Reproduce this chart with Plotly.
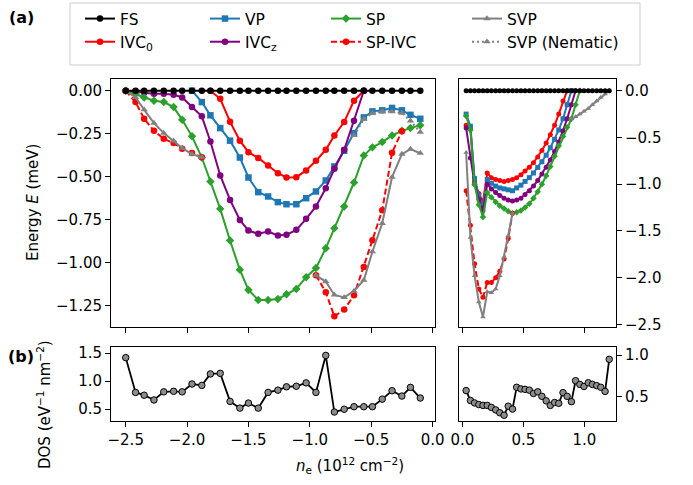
import plotly.graph_objects as go

N = None
# ---------------- data ----------------
x_left = [-2.50, -2.42, -2.35, -2.27, -2.19, -2.11, -2.04, -1.96, -1.88, -1.81, -1.73,
          -1.65, -1.57, -1.50, -1.42, -1.34, -1.26, -1.19, -1.11, -1.03, -0.95, -0.87,
          -0.80, -0.72, -0.64, -0.56, -0.49, -0.41, -0.33, -0.25, -0.18, -0.10]
x_right = [0.030, 0.065, 0.099, 0.134, 0.168, 0.203, 0.237, 0.272, 0.306, 0.341, 0.375,
           0.410, 0.444, 0.479, 0.513, 0.548, 0.582, 0.617, 0.651, 0.686, 0.720, 0.755,
           0.789, 0.824, 0.858, 0.893, 0.927, 0.962, 0.996, 1.031, 1.065, 1.100, 1.134,
           1.169, 1.203]

fs_left = [0.0] * 32
ivc0_left = [N, N, N, N, N, N, N, N, N, 0.0, -0.047, -0.18, -0.29, -0.357, -0.39, -0.434,
             -0.479, -0.504, -0.502, -0.463, -0.407, -0.343, -0.26, -0.182, -0.058, 0.0,
             N, N, N, N, N, N]
vp_left = [N, N, N, N, N, N, N, 0.0, -0.066, -0.143, -0.217, -0.29, -0.388, -0.504, -0.589,
           -0.614, -0.647, -0.659, -0.659, -0.624, -0.585, -0.521, -0.44, -0.349, -0.246,
           -0.155, -0.12, -0.114, -0.10, -0.114, -0.14, -0.163]
ivcz_left = [0.0, -0.005, -0.012, -0.017, -0.017, -0.023, -0.039, -0.095, -0.149, -0.295,
             -0.492, -0.634, -0.75, -0.812, -0.831, -0.818, -0.841, -0.837, -0.808, -0.744,
             -0.672, -0.566, -0.453, -0.343, -0.174, 0.0, N, N, N, N, N, N]
sp_left = [0.0, -0.019, -0.039, -0.058, -0.066, -0.095, -0.169, -0.265, -0.388, -0.527,
           -0.686, -0.87, -1.04, -1.157, -1.215, -1.215, -1.209, -1.182, -1.151, -1.083,
           -1.03, -0.915, -0.798, -0.672, -0.533, -0.376, -0.329, -0.298, -0.26, -0.233,
           -0.217, -0.2]
spivc_left = [0.0, -0.066, -0.163, -0.233, -0.279, -0.304, -0.337, -0.362, -0.386,
              N, N, N, N, N, N, N, N, N, N, N,
              -1.072, -1.17, -1.31, -1.271, -1.188, -1.023, -0.868, -0.694, -0.36, -0.235, N, N]
svp_left = [0.0, -0.039, -0.11, -0.188, -0.246, -0.291, -0.333, -0.368, -0.386,
            N, N, N, N, N, N, N, N, N, N, N,
            -1.072, -1.108, -1.186, -1.2, -1.163, -1.1, -0.935, -0.77, -0.502, -0.368,
            -0.339, -0.363]
nem_left = [N] * 24 + [-0.26, -0.165, -0.13, -0.12, -0.122, -0.13, -0.175, -0.24]

fs_right = [0.0] * 35
ivc0_right = [-0.37, -0.40, -0.97, -1.10, -1.19, -0.88, -0.93, -0.95, -0.96, -0.97, -0.96,
              -0.95, -0.93, -0.90, -0.86, -0.82, -0.77, -0.71, -0.64, -0.56, -0.47, -0.37,
              -0.25, -0.11, 0.0] + [N] * 10
vp_right = [-0.25, -0.38, -0.94, -1.12, -1.23, -0.95, -0.99, -1.02, -1.04, -1.05, -1.06,
            -1.07, -1.04, -1.01, -0.97, -0.93, -0.88, -0.82, -0.76, -0.69, -0.61, -0.52,
            -0.42, -0.30, -0.15, 0.0] + [N] * 9
ivcz_right = [-0.40, -0.72, -1.00, -1.16, -1.28, -1.00, -1.05, -1.09, -1.12, -1.15, -1.17,
              -1.18, -1.17, -1.15, -1.11, -1.07, -1.02, -0.96, -0.89, -0.82, -0.74, -0.65,
              -0.55, -0.43, -0.30, -0.15, 0.0] + [N] * 8
sp_right = [-0.27, -0.42, -1.00, -1.22, -1.35, -1.09, -1.14, -1.19, -1.23, -1.26, -1.29,
            -1.31, -1.30, -1.28, -1.25, -1.21, -1.15, -1.08, -1.00, -0.91, -0.81, -0.70,
            -0.59, -0.49, -0.39, -0.30, -0.15, 0.0] + [N] * 7
spivc_right = [-1.07, -1.44, -1.85, -2.12, -2.21, -2.05, -2.05, -2.00, -1.93, -1.80, -1.58,
               -1.31] + [N] * 23
svp_right = [-0.66, -1.57, -1.98, -2.26, -2.42, -2.15, -2.16, -2.12, -1.98, -1.78, -1.55,
             -1.31] + [N] * 13 + [-0.30, -0.28, -0.25, -0.22, -0.19, -0.15, -0.11, -0.07,
                                  -0.035, 0.0]
nem_right = [N] * 35

dos_left = [1.42, 0.80, 0.75, 0.665, 0.81, 0.82, 0.81, 0.95, 0.925, 1.13, 1.14, 0.64, 0.52,
            0.61, 0.52, 0.80, 0.84, 0.90, 0.91, 0.97, 0.80, 1.46, 0.45, 0.50, 0.545, 0.545,
            0.545, 0.68, 0.83, 0.735, 0.89, 0.70]
dos_right = [0.57, 0.45, 0.42, 0.40, 0.39, 0.39, 0.365, 0.335, 0.30, 0.27, 0.38, 0.345,
             0.61, 0.59, 0.585, 0.575, 0.535, 0.555, 0.50, 0.445, 0.39, 0.425, 0.415, 0.545,
             0.50, 0.435, 0.69, 0.645, 0.62, 0.665, 0.645, 0.63, 0.61, 0.56, 0.95]

series_names = ["IVC<sub>0</sub>", "VP", "IVC<sub>z</sub>", "SP", "SP-IVC", "SVP",
                "SVP (Nematic)", "FS"]
left_vals = [ivc0_left, vp_left, ivcz_left, sp_left, spivc_left, svp_left, nem_left, fs_left]
right_vals = [ivc0_right, vp_right, ivcz_right, sp_right, spivc_right, svp_right, nem_right,
              fs_right]

# ---------------- styles ----------------
colors = ["#ff0000", "#1f77b4", "#800080", "#2ca02c", "#ff0000", "#808080", "#808080", "#000000"]
symbols = ["circle", "square", "circle", "diamond", "circle", "triangle-up", "triangle-up", "circle"]
dashes = ["solid", "solid", "solid", "solid", "6px,3px", "solid", "2px,3px", "solid"]
# legend columns as in a 4-column matplotlib legend (filled column by column)
legend_ids = ["legend", "legend2", "legend2", "legend3", "legend3", "legend4", "legend4", "legend"]
ranks = [2, 1, 2, 1, 2, 1, 2, 1]

FONT = "DejaVu Sans"
W, H = 693, 485
def fx(p):
    return p / W
def fy(p):
    return 1 - p / H

fig = go.Figure()
for k, name in enumerate(series_names):
    fig.add_trace(go.Scatter(
        x=x_left, y=left_vals[k], mode="lines+markers", name=name,
        line=dict(color=colors[k], width=2, dash=dashes[k]),
        marker=dict(symbol=symbols[k], size=6.5, color=colors[k], line=dict(width=0)),
        legend=legend_ids[k], legendrank=ranks[k], xaxis="x", yaxis="y", showlegend=True))
for k, name in enumerate(series_names):
    fig.add_trace(go.Scatter(
        x=x_right, y=right_vals[k], mode="lines+markers", name=name,
        line=dict(color=colors[k], width=2, dash=dashes[k]),
        marker=dict(symbol=symbols[k], size=5, color=colors[k], line=dict(width=0)),
        xaxis="x2", yaxis="y2", showlegend=False))

dos_style = dict(mode="lines+markers", line=dict(color="black", width=1.8),
                 marker=dict(symbol="circle", size=6.5, color="#8c8c8c",
                             line=dict(color="black", width=1)), showlegend=False)
fig.add_trace(go.Scatter(x=x_left, y=dos_left, xaxis="x3", yaxis="y3", **dos_style))
fig.add_trace(go.Scatter(x=x_right, y=dos_right, xaxis="x4", yaxis="y4", **dos_style))

axis_common = dict(showline=True, linecolor="black", linewidth=1, mirror=True,
                   ticks="outside", ticklen=5, tickwidth=1, tickcolor="black",
                   showgrid=False, zeroline=False,
                   tickfont=dict(family=FONT, size=15, color="black"))

xl_dom = [fx(111), fx(435)]
xr_dom = [fx(459), fx(616)]
yt_dom = [fy(327), fy(79)]
yb_dom = [fy(421), fy(347)]

def leg(xpix):
    return dict(orientation="v", x=fx(xpix), y=fy(2), xanchor="left", yanchor="top",
                bgcolor="rgba(0,0,0,0)", borderwidth=0, itemwidth=30,
                font=dict(family=FONT, size=15.5, color="black"), traceorder="normal")

fig.update_layout(
    width=W, height=H, margin=dict(l=0, r=0, t=0, b=0, autoexpand=False),
    paper_bgcolor="white", plot_bgcolor="white",
    font=dict(family=FONT, size=15, color="black"),
    xaxis=dict(domain=xl_dom, anchor="y", range=[-2.62, 0.02],
               tickvals=[-2.5, -2.0, -1.5, -1.0, -0.5, 0.0], showticklabels=False, **axis_common),
    yaxis=dict(domain=yt_dom, anchor="x", range=[-1.372, 0.068],
               tickvals=[0, -0.25, -0.5, -0.75, -1.0, -1.25], tickformat=".2f", **axis_common),
    xaxis2=dict(domain=xr_dom, anchor="y2", range=[-0.0285, 1.2585],
                tickvals=[0.0, 0.5, 1.0], showticklabels=False, **axis_common),
    yaxis2=dict(domain=yt_dom, anchor="x2", range=[-2.527, 0.125], side="right",
                tickvals=[0, -0.5, -1.0, -1.5, -2.0, -2.5], tickformat=".1f", **axis_common),
    xaxis3=dict(domain=xl_dom, anchor="y3", range=[-2.62, 0.02],
                tickvals=[-2.5, -2.0, -1.5, -1.0, -0.5, 0.0], tickformat=".1f", **axis_common),
    yaxis3=dict(domain=yb_dom, anchor="x3", range=[0.29, 1.61],
                tickvals=[0.5, 1.0, 1.5], tickformat=".1f", **axis_common),
    xaxis4=dict(domain=xr_dom, anchor="y4", range=[-0.0285, 1.2585],
                tickvals=[0.0, 0.5, 1.0], tickformat=".1f", **axis_common),
    yaxis4=dict(domain=yb_dom, anchor="x4", range=[0.2, 1.1], side="right",
                tickvals=[0.5, 1.0], tickformat=".1f", **axis_common),
    legend=leg(80), legend2=leg(205), legend3=leg(326), legend4=leg(467),
    shapes=[dict(type="rect", xref="paper", yref="paper", x0=fx(70), x1=fx(640),
                 y0=fy(65), y1=fy(3), line=dict(color="#cccccc", width=1), layer="below")],
    annotations=[
        dict(text="<b>(a)</b>", x=fx(21), y=fy(18), xref="paper", yref="paper",
             xanchor="center", yanchor="middle", showarrow=False,
             font=dict(family=FONT, size=16)),
        dict(text="<b>(b)</b>", x=fx(21), y=fy(356), xref="paper", yref="paper",
             xanchor="center", yanchor="middle", showarrow=False,
             font=dict(family=FONT, size=16)),
        dict(text="Energy <i>E</i> (meV)", x=fx(33), y=fy(203), xref="paper", yref="paper",
             xanchor="center", yanchor="middle", showarrow=False, textangle=-90,
             font=dict(family=FONT, size=15)),
        dict(text="DOS (eV<sup>\u22121</sup> nm<sup>\u22122</sup>)", x=fx(44), y=fy(405),
             xref="paper", yref="paper", xanchor="center", yanchor="middle",
             showarrow=False, textangle=-90, font=dict(family=FONT, size=15)),
        dict(text="<i>n</i><sub>e</sub> (10<sup>12</sup> cm<sup>\u22122</sup>)", x=fx(350),
             y=fy(465), xref="paper", yref="paper", xanchor="center", yanchor="middle",
             showarrow=False, font=dict(family=FONT, size=15)),
    ],
)

fig.write_html("out.html", config={"displayModeBar": False},
               post_script="document.body.style.margin='0px';")
